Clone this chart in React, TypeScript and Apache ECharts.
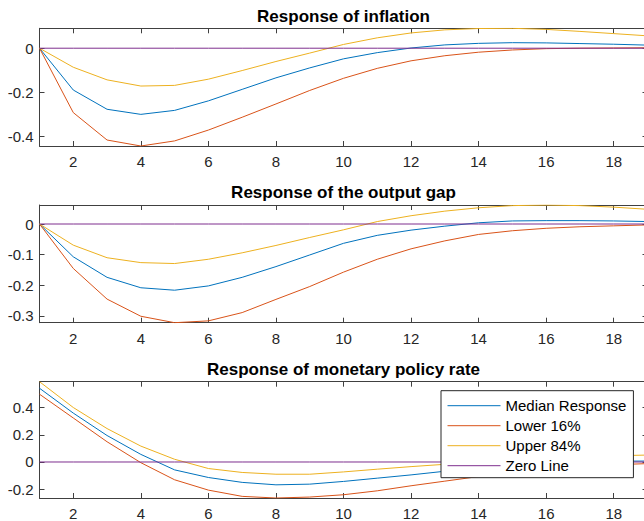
import React, { useEffect, useRef } from "react";
import * as echarts from "echarts";

const periods = [1, 2, 3, 4, 5, 6, 7, 8, 9, 10, 11, 12, 13, 14, 15, 16, 17, 18, 19];

const inflationMedian = [0, -0.189, -0.276, -0.299, -0.281, -0.238, -0.186, -0.134, -0.089, -0.048, -0.020, 0.001, 0.015, 0.022, 0.025, 0.024, 0.021, 0.018, 0.014];
const inflationLower = [0, -0.291, -0.415, -0.442, -0.419, -0.370, -0.312, -0.252, -0.191, -0.136, -0.091, -0.057, -0.034, -0.018, -0.008, -0.002, 0.000, 0.001, 0.002];
const inflationUpper = [0, -0.086, -0.143, -0.171, -0.168, -0.140, -0.101, -0.060, -0.022, 0.017, 0.047, 0.069, 0.083, 0.089, 0.090, 0.085, 0.076, 0.066, 0.056];

const gapMedian = [0, -0.107, -0.174, -0.208, -0.216, -0.202, -0.174, -0.139, -0.101, -0.063, -0.037, -0.020, -0.007, 0.004, 0.010, 0.011, 0.011, 0.010, 0.008];
const gapLower = [0, -0.145, -0.245, -0.301, -0.322, -0.316, -0.289, -0.246, -0.204, -0.157, -0.115, -0.081, -0.055, -0.034, -0.022, -0.014, -0.009, -0.006, -0.003];
const gapUpper = [0, -0.069, -0.110, -0.126, -0.129, -0.115, -0.094, -0.070, -0.044, -0.019, 0.008, 0.027, 0.042, 0.053, 0.060, 0.062, 0.060, 0.055, 0.048];

const rateMedian = [0.543, 0.360, 0.195, 0.056, -0.058, -0.114, -0.150, -0.168, -0.163, -0.143, -0.119, -0.095, -0.068, -0.042, -0.021, -0.006, 0.002, 0.006, 0.007];
const rateLower = [0.499, 0.324, 0.149, -0.005, -0.131, -0.207, -0.253, -0.265, -0.258, -0.241, -0.212, -0.175, -0.141, -0.107, -0.076, -0.051, -0.033, -0.020, -0.012];
const rateUpper = [0.591, 0.401, 0.246, 0.117, 0.020, -0.048, -0.077, -0.090, -0.090, -0.073, -0.053, -0.034, -0.017, 0.000, 0.015, 0.028, 0.038, 0.046, 0.051];

const zeroLine = periods.map(() => 0);

const titles = ["Response of inflation", "Response of the output gap", "Response of monetary policy rate"];
const seriesNames = ["Median Response", "Lower 16%", "Upper 84%", "Zero Line"];
const colors = ["#0072BD", "#D95319", "#EDB120", "#7E2F8E"];

const panels = [
  { median: inflationMedian, lower: inflationLower, upper: inflationUpper, split: 3 },
  { median: gapMedian, lower: gapLower, upper: gapUpper, split: 4 },
  { median: rateMedian, lower: rateLower, upper: rateUpper, split: 4 },
];

const FONT = "'Liberation Sans', Arial, Helvetica, sans-serif";
const GRID_LEFT = 39.5;
const GRID_W = 608;
const gridBoxes = [
  { top: 28.3, height: 117.7, titleTop: 7.5 },
  { top: 205, height: 117.7, titleTop: 184 },
  { top: 381.7, height: 117.3, titleTop: 360.5 },
];

const AXIS_COLOR = "#404040";
const TEXT_COLOR = "#262626";

function buildOption() {
  const grid: any[] = [];
  const xAxis: any[] = [];
  const yAxis: any[] = [];
  const series: any[] = [];
  const title: any[] = [];

  panels.forEach((p, g) => {
    const box = gridBoxes[g];
    grid.push({ left: GRID_LEFT, top: box.top, width: GRID_W, height: box.height, containLabel: false });
    title.push({
      text: titles[g],
      left: GRID_LEFT + GRID_W / 2,
      top: box.titleTop,
      textAlign: "center",
      padding: 0,
      textStyle: { fontFamily: FONT, fontSize: 17, fontWeight: "bold", color: "#000" },
    });
    const ymin = Math.min(...p.lower);
    const ymax = Math.max(...p.upper);
    const lineStyle = { color: AXIS_COLOR, width: 1 };
    xAxis.push({
      type: "value", gridIndex: g, position: "bottom", min: 1, max: 19, splitNumber: 9,
      axisLine: { show: true, onZero: false, lineStyle },
      axisTick: { show: true, inside: true, length: 5, lineStyle },
      axisLabel: { show: true, showMinLabel: false, showMaxLabel: false, margin: 8, color: TEXT_COLOR, fontFamily: FONT, fontSize: 15 },
      splitLine: { show: false },
    });
    xAxis.push({
      type: "value", gridIndex: g, position: "top", min: 1, max: 19, splitNumber: 9,
      axisLine: { show: true, onZero: false, lineStyle },
      axisTick: { show: true, inside: true, length: 5, lineStyle },
      axisLabel: { show: false },
      splitLine: { show: false },
    });
    yAxis.push({
      type: "value", gridIndex: g, position: "left", min: ymin, max: ymax, splitNumber: p.split,
      axisLine: { show: true, onZero: false, lineStyle },
      axisTick: { show: true, inside: true, length: 5, lineStyle },
      axisLabel: { show: true, showMinLabel: false, showMaxLabel: false, margin: 6, color: TEXT_COLOR, fontFamily: FONT, fontSize: 15 },
      splitLine: { show: false },
    });
    yAxis.push({
      type: "value", gridIndex: g, position: "right", min: ymin, max: ymax, splitNumber: p.split,
      axisLine: { show: true, onZero: false, lineStyle },
      axisTick: { show: true, inside: true, length: 5, lineStyle },
      axisLabel: { show: false },
      splitLine: { show: false },
    });

    const dataSets = [p.median, p.lower, p.upper, zeroLine];
    dataSets.forEach((vals, i) => {
      series.push({
        type: "line",
        name: seriesNames[i],
        xAxisIndex: 2 * g,
        yAxisIndex: 2 * g,
        data: periods.map((x, k) => [x, vals[k]]),
        symbol: "none",
        showSymbol: false,
        smooth: false,
        clip: true,
        lineStyle: { color: colors[i], width: 1 },
        itemStyle: { color: colors[i] },
        emphasis: { disabled: true },
        z: 2 + i,
      });
    });
  });

  return {
    animation: false,
    backgroundColor: "#ffffff",
    title,
    grid,
    xAxis,
    yAxis,
    series,
    legend: {
      show: true,
      orient: "vertical",
      left: 441,
      top: 390.7,
      data: seriesNames,
      backgroundColor: "#ffffff",
      borderColor: "#262626",
      borderWidth: 1,
      borderRadius: 0,
      padding: [5, 7, 2, 6],
      itemWidth: 53,
      itemHeight: 20,
      itemGap: 0,
      itemTextGap: 7,
      selectedMode: false,
      itemStyle: { opacity: 0, borderWidth: 0 },
      lineStyle: { width: 1 },
      textStyle: { fontFamily: FONT, fontSize: 15, color: "#000", lineHeight: 20 },
      z: 10,
    },
  };
}

export default function App() {
  const ref = useRef<HTMLDivElement>(null);
  useEffect(() => {
    if (!ref.current) return;
    const chart = echarts.init(ref.current, undefined, { renderer: "svg" });
    chart.setOption(buildOption() as any);
    return () => chart.dispose();
  }, []);
  return (
    <div style={{ position: "fixed", left: 0, top: 0, width: 644, height: 521, overflow: "hidden", background: "#fff" }}>
      <div ref={ref} style={{ width: 660, height: 521 }} />
    </div>
  );
}
